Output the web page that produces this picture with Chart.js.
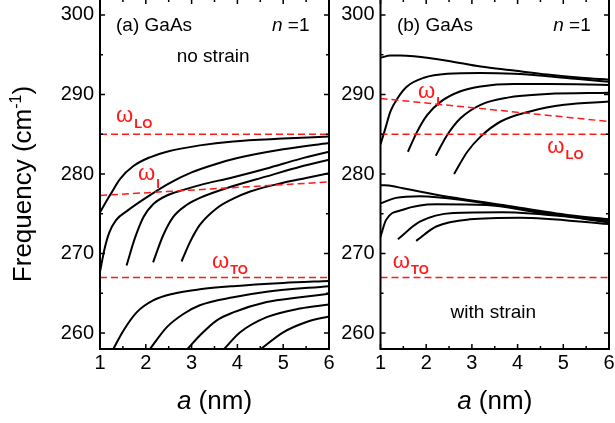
<!DOCTYPE html>
<html>
<head>
<meta charset="utf-8">
<title>GaAs optical phonon branches</title>
<script src="https://cdn.jsdelivr.net/npm/chart.js@4.4.1/dist/chart.umd.min.js"></script>
<style>
  body { margin: 0; background: #fff; }
  #wrap { position: relative; width: 615px; height: 423px; overflow: hidden; }
  canvas { position: absolute; top: -1px; }
</style>
</head>
<body>
<div id="wrap">
  <canvas id="chartA" width="335" height="424" style="left:0;width:335px;height:424px"></canvas>
  <canvas id="chartB" width="280" height="424" style="left:335px;width:280px;height:424px"></canvas>
</div>
<script>
// axis ticks
const aTicks = [1, 2, 3, 4, 5, 6];
const freqTicks = [260, 270, 280, 290, 300];

// (a) no strain -- [a (nm), frequency (cm-1)]
const aUp1 = [[1,275.2],[1.22,277.35],[1.44,279.4],[1.73,281.0],[2.09,282.1],[2.46,282.8],[3.18,283.6],[3.91,284.1],[5,284.45],[6,284.7]];
const aUp2 = [[1,267.7],[1.1,270.6],[1.2,272.6],[1.35,274.2],[1.6,275.4],[2.0,277.0],[2.5,278.8],[3.0,280.2],[3.5,281.2],[4,282.0],[5,283.1],[6,283.9]];
const aUp3 = [[1.58,268.5],[1.76,271.9],[1.95,274.6],[2.16,276.2],[2.46,277.3],[2.82,278.0],[3.18,278.6],[3.91,279.6],[4.64,280.7],[5.37,281.9],[6,282.8]];
const aUp4 = [[2.16,268.9],[2.38,272.3],[2.6,274.6],[2.89,276.1],[3.18,277.0],[3.91,278.5],[4.64,279.7],[5.37,280.9],[6,281.8]];
const aUp5 = [[2.78,269.0],[2.97,271.5],[3.18,273.6],[3.55,275.7],[3.91,276.9],[4.28,277.8],[5,278.9],[5.5,279.5],[6,280.1]];
const aLow1 = [[1.29,258],[1.51,260.3],[1.8,262.6],[2.16,264.1],[2.6,264.95],[3.18,265.5],[3.91,265.9],[5,266.3],[6,266.55]];
const aLow2 = [[2.09,258],[2.46,260.75],[2.82,262.4],[3.18,263.5],[3.91,264.5],[4.64,265.2],[6,265.9]];
const aLow3 = [[2.91,258],[3.18,259.7],[3.55,261.6],[3.91,262.6],[4.64,263.9],[5.37,264.5],[6,264.95]];
const aLow4 = [[3.71,258],[4.06,260.1],[4.64,262.0],[5.37,263.1],[6,263.6]];
const aLow5 = [[4.51,258],[5,260.1],[5.51,261.4],[6,262.1]];
const aOmegaLO = [[1,285],[6,285]];
const aOmegaTO = [[1,267],[6,267]];
const aOmegaI = [[1,277.3],[6,279.0]];

// (b) with strain
const bUp1 = [[1,294.6],[1.22,294.9],[1.44,294.9],[1.73,294.8],[2.46,294.25],[3.19,293.5],[3.92,293.0],[4.65,292.5],[5.39,292.1],[6,291.85]];
const bUp2 = [[1,283.7],[1.11,285.8],[1.22,287.9],[1.37,289.5],[1.58,291.0],[1.95,292.1],[2.46,292.6],[3.19,292.7],[3.92,292.6],[4.65,292.3],[5.39,291.9],[6,291.6]];
const bUp3 = [[1.6,282.8],[1.8,285.3],[2.02,287.4],[2.32,289.1],[2.75,290.4],[3.19,291.0],[3.92,291.3],[4.65,291.3],[6,291.2]];
const bUp4 = [[2.21,282.3],[2.46,284.9],[2.75,287.0],[3.19,288.7],[3.78,289.6],[4.65,290.05],[6,290.2]];
const bUp5 = [[2.61,280.0],[2.9,282.8],[3.19,284.7],[3.63,286.6],[4.29,287.9],[5.02,288.7],[6,289.1]];
const bLow1 = [[1,278.6],[1.25,278.5],[1.49,278.2],[2.22,277.4],[3.68,276.1],[5.14,274.8],[6,274.3]];
const bLow2 = [[1,276.3],[1.34,277.0],[1.86,277.2],[2.95,276.6],[4.41,275.3],[6,274.1]];
const bLow3 = [[1,272.1],[1.12,274.2],[1.49,275.5],[2.22,276.2],[3.32,276.1],[4.41,275.2],[6,274.0]];
const bLow4 = [[1.38,271.8],[1.86,274.0],[2.59,275.1],[3.68,275.2],[5.14,274.6],[6,273.9]];
const bLow5 = [[1.78,271.6],[2.22,273.4],[2.95,274.3],[4.05,274.5],[6,273.7]];
const bOmegaLO = [[1,285],[6,285]];
const bOmegaTO = [[1,267],[6,267]];
const bOmegaI = [[1,289.5],[6,286.6]];

const FONT = '"Liberation Sans", Arial, sans-serif';
const RED = '#ff1a1a';

function toXY(pairs) {
    return pairs.map(p => ({ x: p[0], y: p[1] }));
}

// frame, inward ticks, axis titles and in-plot labels
const panelDecor = {
    id: 'panelDecor',
    afterDraw(chart, args, opts) {
        const { ctx, chartArea: ca } = chart;
        const x = chart.scales.x, y = chart.scales.y;
        ctx.save();

        ctx.strokeStyle = '#000';
        ctx.lineWidth = 1.5;
        ctx.beginPath();
        aTicks.forEach(v => {
            const px = x.getPixelForValue(v);
            ctx.moveTo(px, ca.bottom); ctx.lineTo(px, ca.bottom - 5);
            ctx.moveTo(px, ca.top); ctx.lineTo(px, ca.top + 5);
            if (v < 6) {
                const pm = x.getPixelForValue(v + 0.5);
                ctx.moveTo(pm, ca.bottom); ctx.lineTo(pm, ca.bottom - 3);
                ctx.moveTo(pm, ca.top); ctx.lineTo(pm, ca.top + 3);
            }
        });
        freqTicks.forEach(v => {
            const py = y.getPixelForValue(v);
            ctx.moveTo(ca.left, py); ctx.lineTo(ca.left + 5, py);
            ctx.moveTo(ca.right, py); ctx.lineTo(ca.right - 5, py);
            if (v + 5 < 302) {
                const pm = y.getPixelForValue(v + 5);
                ctx.moveTo(ca.left, pm); ctx.lineTo(ca.left + 3, pm);
                ctx.moveTo(ca.right, pm); ctx.lineTo(ca.right - 3, pm);
            }
        });
        ctx.stroke();

        ctx.lineWidth = 2;
        ctx.strokeRect(ca.left, ca.top, ca.right - ca.left, ca.bottom - ca.top);

        ctx.fillStyle = '#000';
        ctx.textBaseline = 'alphabetic';

        // x axis title: italic a + (nm)
        ctx.font = 'italic 26px ' + FONT;
        const wA = ctx.measureText('a').width;
        ctx.font = '26px ' + FONT;
        const wRest = ctx.measureText(' (nm)').width;
        let tx = (ca.left + ca.right) / 2 - (wA + wRest) / 2;
        ctx.textAlign = 'left';
        ctx.font = 'italic 26px ' + FONT;
        ctx.fillText('a', tx, 410);
        ctx.font = '26px ' + FONT;
        ctx.fillText(' (nm)', tx + wA, 410);

        if (opts.yTitle) {
            ctx.save();
            ctx.translate(31, 185);
            ctx.rotate(-Math.PI / 2);
            ctx.font = '26px ' + FONT;
            const w1 = ctx.measureText('Frequency (cm').width;
            const w3 = ctx.measureText(')').width;
            ctx.font = '16px ' + FONT;
            const w2 = ctx.measureText('-1').width;
            let sx = -(w1 + w2 + w3) / 2;
            ctx.font = '26px ' + FONT;
            ctx.fillText('Frequency (cm', sx, 0);
            ctx.font = '16px ' + FONT;
            ctx.fillText('-1', sx + w1, -10);
            ctx.font = '26px ' + FONT;
            ctx.fillText(')', sx + w1 + w2, 0);
            ctx.restore();
        }

        // plain labels
        opts.notes.forEach(n => {
            const px = x.getPixelForValue(n.a), py = y.getPixelForValue(n.f);
            ctx.textAlign = n.align || 'left';
            if (n.italicN) {
                ctx.font = 'italic 19px ' + FONT;
                ctx.fillText('n', px, py);
                const wn = ctx.measureText('n').width;
                ctx.font = '19px ' + FONT;
                ctx.fillText(' =1', px + wn, py);
            } else {
                ctx.font = '19px ' + FONT;
                ctx.fillText(n.text, px, py);
            }
        });

        // omega labels in red
        ctx.fillStyle = RED;
        ctx.textAlign = 'left';
        opts.omegas.forEach(o => {
            const px = x.getPixelForValue(o.a), py = y.getPixelForValue(o.f);
            ctx.font = '22px ' + FONT;
            ctx.fillText('\u03c9', px, py);
            const w = ctx.measureText('\u03c9').width;
            ctx.font = 'bold 13px ' + FONT;
            ctx.fillText(o.sub, px + w + 1, py + (o.drop || 6));
        });
        ctx.restore();
    }
};

function buildPanel(id, curves, guides, yAxisWidth, decor) {
    const datasets = [];
    guides.forEach(g => datasets.push({
        data: toXY(g), borderColor: RED, borderWidth: 1.5, borderDash: [7, 4],
        pointRadius: 0, tension: 0
    }));
    curves.forEach(c => datasets.push({
        data: toXY(c), borderColor: '#000', borderWidth: 2,
        pointRadius: 0, cubicInterpolationMode: 'monotone'
    }));

    return new Chart(document.getElementById(id), {
        type: 'line',
        data: { datasets },
        options: {
            responsive: false,
            animation: false,
            events: [],
            layout: { padding: { left: 0, right: 6, top: 0, bottom: 0 } },
            plugins: {
                legend: { display: false },
                tooltip: { enabled: false },
                panelDecor: decor
            },
            scales: {
                x: {
                    type: 'linear', min: 1, max: 6,
                    grid: { display: false, drawTicks: false },
                    border: { display: false },
                    afterBuildTicks: s => { s.ticks = aTicks.map(v => ({ value: v })); },
                    afterFit: s => { s.height = 74; s.paddingLeft = 0; s.paddingRight = 0; },
                    ticks: { color: '#000', padding: 2, maxRotation: 0, font: { family: FONT, size: 20 } }
                },
                y: {
                    type: 'linear', min: 258, max: 302,
                    grid: { display: false, drawTicks: false },
                    border: { display: false },
                    afterBuildTicks: s => { s.ticks = freqTicks.map(v => ({ value: v })); },
                    afterFit: s => { s.width = yAxisWidth; s.paddingTop = 0; s.paddingBottom = 0; },
                    ticks: { color: '#000', padding: 6, font: { family: FONT, size: 20 } }
                }
            }
        },
        plugins: [panelDecor]
    });
}

buildPanel('chartA',
    [aUp1, aUp2, aUp3, aUp4, aUp5, aLow1, aLow2, aLow3, aLow4, aLow5],
    [aOmegaLO, aOmegaTO, aOmegaI],
    100,
    {
        yTitle: true,
        notes: [
            { text: '(a) GaAs', a: 1.35, f: 298.0 },
            { italicN: true, a: 4.755, f: 298.0 },
            { text: 'no strain', a: 3.47, f: 294.1, align: 'center' }
        ],
        omegas: [
            { sub: 'LO', a: 1.35, f: 286.55 },
            { sub: 'I', a: 1.83, f: 279.25, drop: 8 },
            { sub: 'TO', a: 3.445, f: 268.15 }
        ]
    });

buildPanel('chartB',
    [bUp1, bUp2, bUp3, bUp4, bUp5, bLow1, bLow2, bLow3, bLow4, bLow5],
    [bOmegaLO, bOmegaTO, bOmegaI],
    45.5,
    {
        yTitle: false,
        notes: [
            { text: '(b) GaAs', a: 1.36, f: 298.0 },
            { italicN: true, a: 4.78, f: 298.0 },
            { text: 'with strain', a: 3.47, f: 261.85, align: 'center' }
        ],
        omegas: [
            { sub: 'I', a: 1.82, f: 289.6, drop: 8 },
            { sub: 'LO', a: 4.65, f: 282.7 },
            { sub: 'TO', a: 1.27, f: 268.15 }
        ]
    });
</script>
</body>
</html>
